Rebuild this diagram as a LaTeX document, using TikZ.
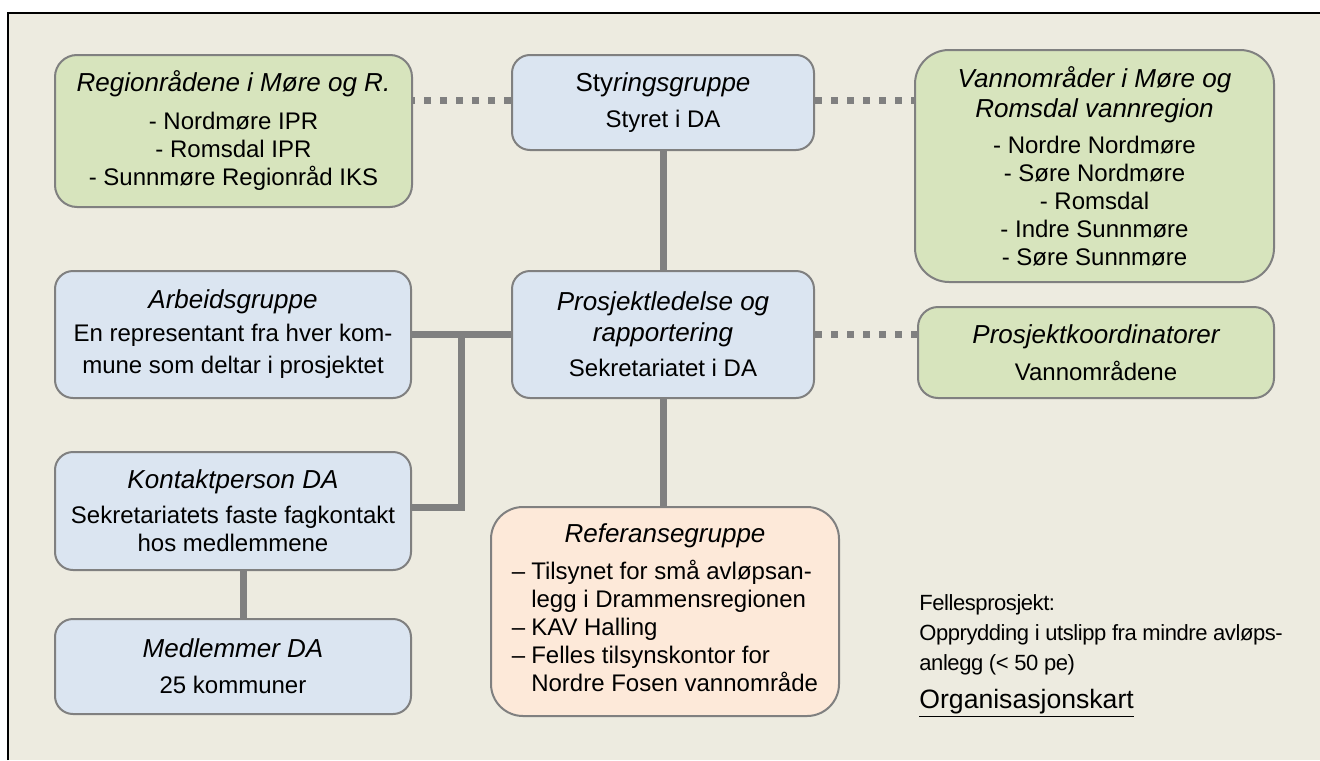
\documentclass[tikz,border=0pt]{standalone}
\usepackage{fontspec}
\setmainfont{Liberation Sans}
\definecolor{bgbeige}{HTML}{EDEBE0}
\definecolor{boxblue}{HTML}{DBE5F1}
\definecolor{boxgreen}{HTML}{D7E4BD}
\definecolor{boxpeach}{HTML}{FDE9D9}
\definecolor{linegray}{HTML}{808080}
\newcommand{\tittel}{\fontsize{13}{15}\selectfont\itshape}
\begin{document}
\begin{tikzpicture}[x=0.5pt,y=-0.5pt,
	boks/.style={draw=linegray,line width=1pt,rounded corners=9pt,inner sep=0pt,align=center,font=\fontsize{12}{14}\selectfont},
	blaa/.style={boks,fill=boxblue},
	groenn/.style={boks,fill=boxgreen},
	linje/.style={draw=linegray,line width=3.5pt},
	prikk/.style={draw=linegray,line width=3.5pt,dash pattern=on 3.5pt off 4.5pt}]
				\useasboundingbox (0,0) rectangle (1320,760);
				\fill[white] (0,0) rectangle (1320,760);
				\fill[bgbeige] (8,13) rectangle (1320,760);
				\draw[line width=1.2pt] (8,760) -- (8,13) -- (1320,13);
				\node[groenn,rounded corners=11pt,minimum width=178.5pt,minimum height=76pt] (reg) at (233.5,131) {{\tittel Regionrådene i Møre og R.}\\[5pt]- Nordmøre IPR\\- Romsdal IPR\\- Sunnmøre Regionråd IKS};
				\node[blaa,minimum width=151pt,minimum height=47.5pt] (sty) at (663,102.5) {{\fontsize{13}{15}\selectfont Sty\itshape ringsgruppe}\\[4pt]Styret i DA};
				\node[groenn,rounded corners=17pt,minimum width=179.5pt,minimum height=116pt] (van) at (1094.5,166) {{\tittel Vannområder i Møre og}\\[1pt]{\tittel Romsdal vannregion}\\[4pt]- Nordre Nordmøre\\- Søre Nordmøre\\- Romsdal\\- Indre Sunnmøre\\- Søre Sunnmøre};
				\node[blaa,minimum width=178pt,minimum height=63.5pt] (arb) at (233,334.5) {{\tittel Arbeidsgruppe}\\[2.5pt]En representant fra hver kom-\\[2pt]mune som deltar i prosjektet};
				\node[blaa,minimum width=151pt,minimum height=63.5pt] (pro) at (663,334.5) {{\tittel Prosjektledelse og}\\[1.5pt]{\tittel rapportering}\\[3.5pt]Sekretariatet i DA};
				\node[groenn,rounded corners=10pt,minimum width=178pt,minimum height=45.5pt] (koord) at (1096,352.5) {{\tittel Prosjektkoordinatorer}\\[4.5pt]Vannområdene};
				\node[blaa,minimum width=178pt,minimum height=59pt] (kon) at (233,511) {{\tittel Kontaktperson DA}\\[3.5pt]Sekretariatets faste fagkontakt\\hos medlemmene};
				\node[blaa,minimum width=178pt,minimum height=47.5pt] (med) at (233,666.5) {{\tittel Medlemmer DA}\\[4pt]25 kommuner};
				\node[boks,fill=boxpeach,rounded corners=16pt,minimum width=174pt,minimum height=104.5pt] (ref) at (665,611.5) {{\tittel Referansegruppe}\\[4.5pt]\begin{tabular}[t]{@{}l@{\hspace{3pt}}l@{}}
					– & Tilsynet for små avløpsan-\\
					  & legg i Drammensregionen\\
					– & KAV Halling\\
					– & Felles tilsynskontor for\\
					  & Nordre Fosen vannområde
				\end{tabular}};
				\coordinate (knute) at (461,334.5);
				\draw[linje] (sty.south) -- (pro.north);
				\draw[linje] (arb.east) -- (pro.west);
				\draw[linje] (knute) |- ([yshift=2pt]kon.east);
				\draw[linje] (pro.south) -- (pro.south |- ref.north);
				\draw[linje] ([xshift=5pt]kon.south) -- ([xshift=5pt]med.north);
				\draw[prikk] (sty.west |- 0,100) -- (reg.east |- 0,100);
				\draw[prikk] (sty.east |- 0,100) -- (van.west |- 0,100);
				\draw[prikk] (pro.east) -- (pro.east -| koord.west);
				\node[anchor=north west,inner sep=0pt,align=left,font=\fontsize{11}{15}\selectfont\addfontfeature{LetterSpace=-2}] (felles) at (919,594) {Fellesprosjekt:\\Opprydding i utslipp fra mindre avløps-\\anlegg (< 50 pe)};
				\node[anchor=base west,inner sep=0pt,font=\fontsize{13.3}{15}\selectfont] (kart) at (919,708) {\underline{Organisasjonskart}};
			\end{tikzpicture}
\end{document}
